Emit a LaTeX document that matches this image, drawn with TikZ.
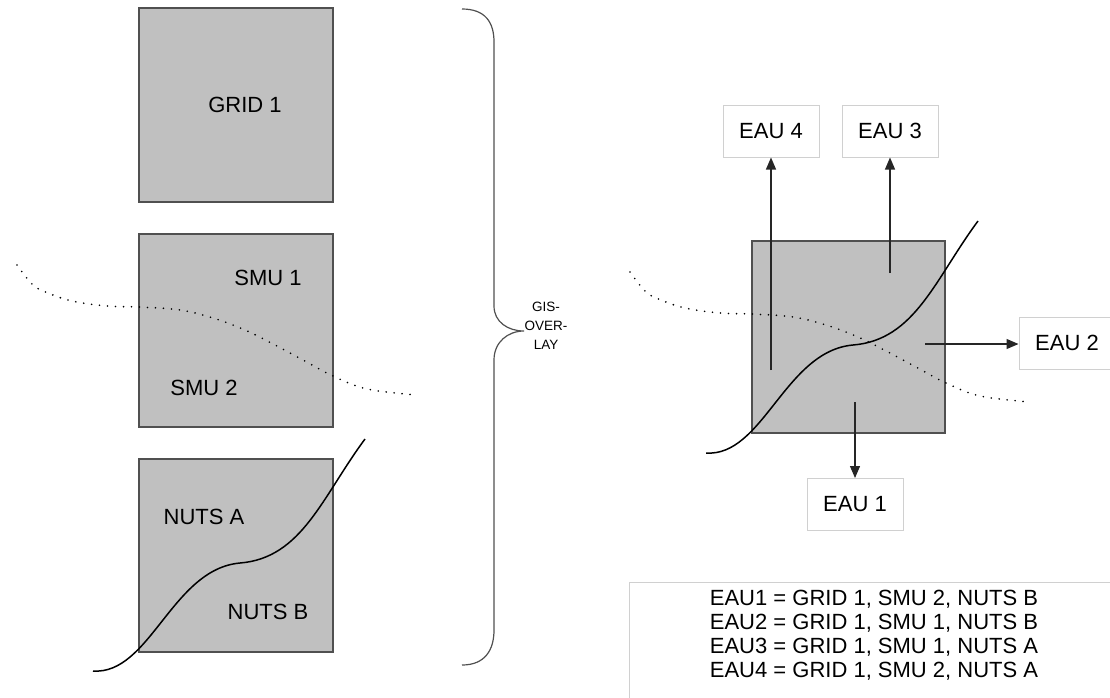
\documentclass[tikz,border=0pt]{standalone}
\usepackage{fontspec}
\setmainfont{Liberation Sans}
\usetikzlibrary{arrows.meta}
\definecolor{boxfill}{HTML}{C0C0C0}
\definecolor{boxline}{HTML}{505050}
\definecolor{lightline}{HTML}{D0D0D0}
\begin{document}
\begin{tikzpicture}[x=1pt,y=-1pt,
  graybox/.style={fill=boxfill,draw=boxline,line width=1.5pt},
  lbl/.style={font=\fontsize{22}{24}\selectfont,inner sep=0pt},
  eaubox/.style={draw=lightline,line width=1pt,fill=white,minimum width=96pt,minimum height=52pt,font=\fontsize{22}{24}\selectfont,inner sep=0pt},
  dotcurve/.style={line width=1.8pt,line cap=round,dash pattern=on 0pt off 8pt,black},
  solidcurve/.style={line width=1.5pt,black},
  arr/.style={line width=1.2pt,black!85,-{Triangle[length=12pt,width=10pt]}}]
\useasboundingbox (0,0) rectangle (1110,697);
\clip (0,0) rectangle (1110,697);

% left boxes
\draw[graybox] (139,8) rectangle (333,202);
\node[lbl] (grid) at (245,105) {GRID 1};
\draw[graybox] (139,234) rectangle (333,427);
\node[lbl] (smu1) at (268,278) {SMU 1};
\node[lbl] (smu2) at (204,388) {SMU 2};
\draw[graybox] (139,459) rectangle (333,652);
\node[lbl] (nutsa) at (204,517) {NUTS A};
\node[lbl] (nutsb) at (268,612) {NUTS B};

% curves (left)
\def\dotpath{plot[smooth,tension=0.6] coordinates {(17,265) (33,285) (48,293) (72,301) (107,306) (139,307) (180,310) (213,318) (245,330) (275,345) (303,360) (333,376) (367,389) (417,395)}}
\def\solpath{(93,671) .. controls (150,675) and (172,569) .. (240,563) .. controls (302,558) and (322,497) .. (365,439)}
\draw[dotcurve] \dotpath;
\draw[solidcurve] \solpath;

% brace
\draw[boxline,line width=1.2pt] (462,9) .. controls (485,9) and (494,22) .. (494,42) -- (494,306) .. controls (494,322) and (508,331) .. (524,331) .. controls (508,331) and (494,342) .. (494,360) -- (494,630) .. controls (494,650) and (485,665) .. (462,665);
\node[font=\fontsize{13.5}{19}\selectfont,align=center,inner sep=0pt] (gis) at (546,326) {GIS-\\OVER-\\LAY};

% right box
\draw[graybox] (752,241) rectangle (945,433);
\begin{scope}[shift={(613,7)}]
\draw[dotcurve] \dotpath;
\end{scope}
\begin{scope}[shift={(613,-218)}]
\draw[solidcurve] \solpath;
\end{scope}

% EAU boxes
\node[eaubox] (eau4) at (771,131) {EAU 4};
\node[eaubox] (eau3) at (890,131) {EAU 3};
\node[eaubox] (eau2) at (1067,343) {EAU 2};
\node[eaubox] (eau1) at (855,504.5) {EAU 1};

\coordinate (s4) at (771,370);
\coordinate (s3) at (890,273);
\coordinate (s2) at (925,344);
\coordinate (s1) at (855,402);
\draw[arr] (s4) -- (eau4.south);
\draw[arr] (s3) -- (eau3.south);
\draw[arr] (s2) -- (eau2.west |- s2);
\draw[arr] (s1) -- (eau1.north);

% legend
\draw[lightline,line width=1pt] (1120,582) -- (629,582) -- (629,710);
\node[font=\fontsize{22}{24}\selectfont,align=center,inner sep=0pt] (legend) at (874,635.5) {EAU1 = GRID 1, SMU 2, NUTS B\\EAU2 = GRID 1, SMU 1, NUTS B\\EAU3 = GRID 1, SMU 1, NUTS A\\EAU4 = GRID 1, SMU 2, NUTS A};
\end{tikzpicture}
\end{document}
